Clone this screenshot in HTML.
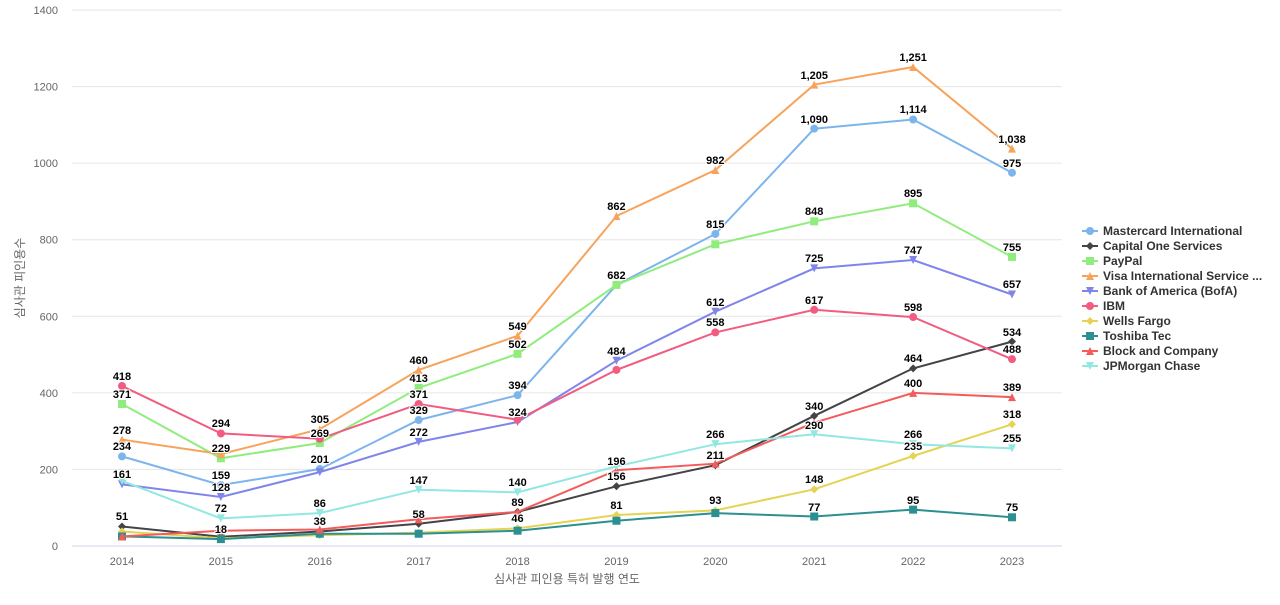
<!DOCTYPE html>
<html><head><meta charset="utf-8"><style>
body{margin:0;background:#fff;font-family:"Liberation Sans","Noto Sans CJK KR",sans-serif}
</style></head><body>
<svg id="s" width="1280" height="600" xmlns="http://www.w3.org/2000/svg" font-family="Liberation Sans, Noto Sans CJK KR, sans-serif"></svg>
<script>
const s=document.getElementById('s');let h='';
const X=i=>122+i*98.89, Y=v=>546-v*536/1400;
for(let v=0;v<=1400;v+=200){const y=Y(v);h+=`<line x1="72" x2="1062" y1="${y}" y2="${y}" stroke="${v?'#e6e6e6':'#ccd6eb'}"/>`;
h+=`<text x="58" y="${y+4}" text-anchor="end" font-size="11" fill="#666">${v}</text>`;}
for(let i=0;i<10;i++)h+=`<text x="${X(i)}" y="565" text-anchor="middle" font-size="11" fill="#666">${2014+i}</text>`;
h+=`<text x="567" y="583" text-anchor="middle" font-size="12" fill="#666">심사관 피인용 특허 발행 연도</text>`;
h+=`<text transform="translate(24,278) rotate(-90)" text-anchor="middle" font-size="12" fill="#666">심사관 피인용수</text>`;
const S=[
["Mastercard International","#7cb5ec","c",[234,159,201,329,394,682,815,1090,1114,975]],
["Capital One Services","#434348","d",[51,24,38,58,89,156,211,340,464,534]],
["PayPal","#90ed7d","s",[371,229,269,413,502,682,788,848,895,755]],
["Visa International Service ...","#f7a35c","t",[278,240,305,460,549,862,982,1205,1251,1038]],
["Bank of America (BofA)","#8085e9","v",[161,128,193,272,324,484,612,725,747,657]],
["IBM","#f15c80","c",[418,294,280,371,330,460,558,617,598,488]],
["Wells Fargo","#e4d354","d",[38,20,28,35,46,81,93,148,235,318]],
["Toshiba Tec","#2b908f","s",[25,18,32,32,40,66,86,77,95,75]],
["Block and Company","#f45b5b","t",[25,40,43,70,89,198,215,322,400,389]],
["JPMorgan Chase","#91e8e1","v",[170,72,86,147,140,208,266,292,266,255]]];
function mk(t,x,y,c){if(t=='c')return `<circle cx="${x}" cy="${y}" r="4" fill="${c}"/>`;
if(t=='d')return `<path d="M${x} ${y-4}L${x+4} ${y}L${x} ${y+4}L${x-4} ${y}Z" fill="${c}"/>`;
if(t=='s')return `<rect x="${x-4}" y="${y-4}" width="8" height="8" fill="${c}"/>`;
if(t=='t')return `<path d="M${x} ${y-4}L${x+4} ${y+4}L${x-4} ${y+4}Z" fill="${c}"/>`;
return `<path d="M${x-4} ${y-4}L${x+4} ${y-4}L${x} ${y+4}Z" fill="${c}"/>`;}
S.forEach((q,k)=>{const p=q[3].map((v,i)=>X(i).toFixed(1)+','+Y(v).toFixed(1)).join(' ');
h+=`<polyline points="${p}" fill="none" stroke="${q[1]}" stroke-width="2"/>`;
q[3].forEach((v,i)=>h+=mk(q[2],X(i),Y(v),q[1]));
const ly=231+k*15;h+=`<line x1="1082" x2="1098" y1="${ly}" y2="${ly}" stroke="${q[1]}" stroke-width="2"/>`+mk(q[2],1090,ly,q[1]);
h+=`<text x="1103" y="${ly+4}" font-size="12" font-weight="bold" fill="#333">${q[0]}</text>`;});
const L=[[0,[[418,376],[371,394],[278,430],[234,446],[161,474],[51,516]]],
[1,[[294,423],[229,448],[159,475],[128,487],[72,508],[18,529]]],
[2,[[305,419],[269,433],[201,459],[86,503],[38,521]]],
[3,[[460,360],[413,378],[371,394],[329,410],[272,432],[147,480],[58,514]]],
[4,[[549,326],[502,344],[394,385],[324,412],[140,482],[89,502],[46,518]]],
[5,[[862,206],[682,275],[484,351],[196,461],[156,476],[81,505]]],
[6,[[982,160],[815,224],[612,302],[558,322],[266,434],[211,455],[93,500]]],
[7,[["1,205",75],["1,090",119],[848,211],[725,258],[617,300],[340,406],[290,425],[148,479],[77,507]]],
[8,[["1,251",57],["1,114",109],[895,193],[747,250],[598,307],[464,358],[400,383],[266,434],[235,446],[95,500]]],
[9,[["1,038",139],[975,163],[755,247],[657,284],[534,332],[488,349],[389,387],[318,414],[255,438],[75,507]]]];
L.forEach(([i,a])=>a.forEach(([t,y])=>h+=`<text x="${X(i)}" y="${y+4}" text-anchor="middle" font-size="11" font-weight="bold" fill="#000" stroke="#fff" stroke-width="2" paint-order="stroke">${t}</text>`));
s.innerHTML=h;
</script></body></html>
